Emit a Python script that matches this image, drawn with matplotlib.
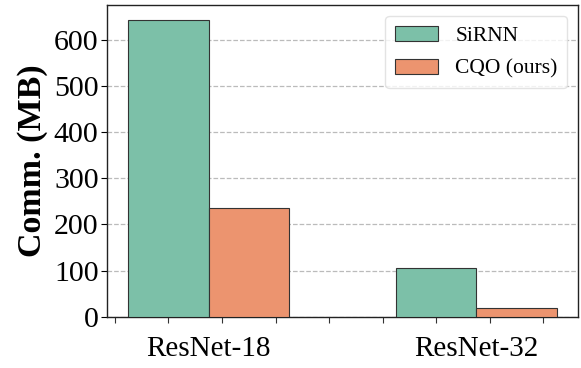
import numpy as np
import matplotlib
matplotlib.use("Agg")
import matplotlib.pyplot as plt
from matplotlib.ticker import MultipleLocator

plt.rcParams['font.family'] = ['Liberation Serif', 'DejaVu Serif']

# data
models = ['ResNet-18', 'ResNet-32']
sirnn = [642.6, 106.7]
cqo = [234.9, 18.1]
series_names = ['SiRNN', 'CQO (ours)']
colors = ['#7cc0a8', '#ec946f']

width = 0.3
x = np.arange(len(models))

fig = plt.figure(figsize=(5.81, 3.68), dpi=100)
ax = fig.add_axes([0.184, 0.139, 0.811, 0.847])

ax.bar(x, sirnn, width, color=colors[0], edgecolor='#333333', linewidth=0.8,
       label=series_names[0], zorder=3)
ax.bar(x + width, cqo, width, color=colors[1], edgecolor='#333333', linewidth=0.8,
       label=series_names[1], zorder=3)

ax.set_xticks(x + width / 2)
ax.set_xticklabels(models, fontsize=21)
ax.tick_params(axis='x', which='major', length=0, pad=14)
ax.xaxis.set_minor_locator(MultipleLocator(0.2))
ax.tick_params(axis='x', which='minor', length=4, width=0.8, color='#333333')

ax.set_yticks([0, 100, 200, 300, 400, 500, 600])
ax.tick_params(axis='y', labelsize=21.5, length=4, width=0.8, pad=2)
ax.set_ylabel('Comm. (MB)', fontsize=24.5, fontweight='bold', labelpad=4)

ax.grid(axis='y', linestyle='--', color='#bbbbbb', linewidth=0.9)
ax.set_axisbelow(True)

for s in ax.spines.values():
    s.set_color('#222222')
    s.set_linewidth(1.0)

ax.legend(loc='upper right', fontsize=15.5, frameon=True, edgecolor='#dddddd',
          borderpad=0.45, labelspacing=0.6, handlelength=2.0, handletextpad=0.8,
          borderaxespad=0.5)

fig.savefig('out.png', dpi=100)
